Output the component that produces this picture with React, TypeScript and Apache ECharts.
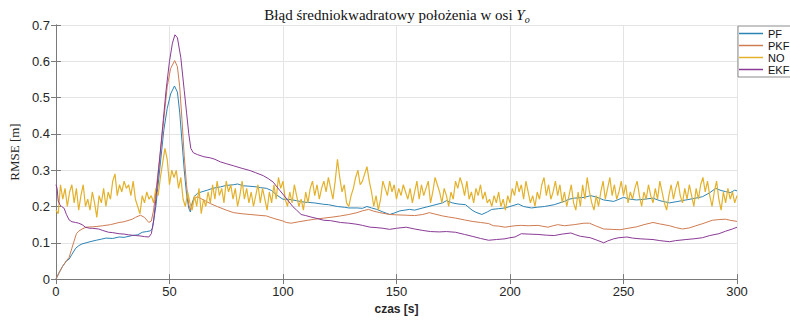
import React, { useEffect, useRef } from "react";
import * as echarts from "echarts";

const seriesNames = ["PF", "PKF", "NO", "EKF"];
const xTicks = [0, 50, 100, 150, 200, 250, 300];
const yTicks = [0, 0.1, 0.2, 0.3, 0.4, 0.5, 0.6, 0.7];

const pfT = [0, 1.4, 2.9, 4.6, 5.8, 7, 8.7, 10, 11.5, 13.3, 15, 17.7, 20, 22, 25, 27.8, 30, 33.6, 36, 38, 40, 41.6, 42.5, 44, 46, 47.5, 49, 50.5, 52.2, 53.5, 54.5, 55.5, 56.5, 57.5, 58.5, 59.2, 60, 61, 62.3, 64, 66.7, 69, 72.4, 75, 78.3, 80, 82.6, 85, 88.4, 90, 92.7, 95, 97.1, 100, 102, 104.3, 106, 109.4, 113.7, 118, 120, 123.9, 127, 129, 132.6, 135, 137, 139, 141.3, 144, 147, 149, 151.5, 155.8, 158, 161.6, 166, 170.3, 172, 174.6, 177, 180.4, 183.3, 185, 187.6, 190, 192, 195, 197.8, 200, 203.6, 206, 209.4, 212, 215.2, 219.5, 223.9, 226, 228.3, 232.6, 235.5, 238, 241.3, 245.7, 250, 253, 255.8, 259, 263, 266, 270.3, 274, 277.5, 281, 284.8, 288, 290.6, 293, 295, 297, 299, 300];
const pfV = [0, 0.018, 0.035, 0.05, 0.055, 0.068, 0.085, 0.092, 0.097, 0.1, 0.103, 0.107, 0.11, 0.113, 0.112, 0.116, 0.115, 0.12, 0.122, 0.129, 0.131, 0.133, 0.14, 0.2, 0.32, 0.41, 0.47, 0.51, 0.532, 0.515, 0.46, 0.38, 0.3, 0.235, 0.195, 0.185, 0.21, 0.228, 0.236, 0.24, 0.245, 0.25, 0.254, 0.258, 0.26, 0.262, 0.257, 0.256, 0.254, 0.252, 0.25, 0.244, 0.232, 0.22, 0.22, 0.218, 0.216, 0.212, 0.21, 0.206, 0.205, 0.2, 0.198, 0.196, 0.196, 0.195, 0.2, 0.196, 0.192, 0.185, 0.178, 0.182, 0.188, 0.192, 0.19, 0.196, 0.203, 0.21, 0.216, 0.21, 0.207, 0.205, 0.19, 0.184, 0.178, 0.185, 0.192, 0.194, 0.196, 0.2, 0.207, 0.2, 0.196, 0.198, 0.2, 0.205, 0.214, 0.22, 0.223, 0.225, 0.23, 0.226, 0.218, 0.214, 0.225, 0.22, 0.218, 0.22, 0.223, 0.216, 0.21, 0.214, 0.218, 0.222, 0.227, 0.238, 0.25, 0.244, 0.241, 0.238, 0.245, 0.243];

const pkfT = [0, 1.4, 2.9, 4.6, 5.8, 7, 8, 9, 10, 11.5, 13.3, 16, 18, 20.6, 24, 27.8, 30, 33.6, 35, 37.2, 39, 40.9, 42, 43, 44, 46, 47.5, 49, 50.5, 52.3, 53.5, 54.5, 55.5, 56.5, 57.5, 58.5, 59.2, 60, 61, 62.3, 65, 68, 71, 75, 78.3, 82, 85.5, 89, 92.7, 96, 100, 101.4, 103.6, 107, 110.9, 114, 118, 122, 125.3, 129, 132.6, 135, 137.7, 140, 142.7, 147, 150, 154.3, 158, 161.6, 164.5, 167, 170.3, 173, 176, 180, 183.3, 187, 190.6, 192.7, 195, 197.8, 200, 202.2, 205, 208, 212.3, 214, 216.7, 219, 221, 224, 228.3, 232.6, 235, 238, 241.3, 245, 248.5, 252, 255.8, 259, 263, 266, 270.3, 273, 276, 279, 281.9, 285, 289.1, 292, 295, 297, 300];
const pkfV = [0, 0.018, 0.035, 0.05, 0.06, 0.085, 0.105, 0.125, 0.132, 0.138, 0.143, 0.144, 0.145, 0.147, 0.15, 0.156, 0.158, 0.165, 0.17, 0.176, 0.17, 0.156, 0.16, 0.19, 0.24, 0.35, 0.44, 0.53, 0.58, 0.602, 0.585, 0.53, 0.44, 0.34, 0.26, 0.205, 0.19, 0.205, 0.222, 0.227, 0.218, 0.208, 0.2, 0.19, 0.183, 0.18, 0.178, 0.176, 0.174, 0.167, 0.16, 0.156, 0.154, 0.158, 0.162, 0.165, 0.168, 0.171, 0.174, 0.178, 0.183, 0.188, 0.192, 0.187, 0.183, 0.178, 0.177, 0.176, 0.175, 0.178, 0.183, 0.179, 0.174, 0.171, 0.168, 0.163, 0.159, 0.156, 0.153, 0.147, 0.146, 0.143, 0.145, 0.147, 0.148, 0.147, 0.148, 0.146, 0.143, 0.147, 0.15, 0.147, 0.15, 0.154, 0.154, 0.146, 0.138, 0.137, 0.136, 0.14, 0.144, 0.15, 0.156, 0.152, 0.147, 0.142, 0.138, 0.141, 0.147, 0.153, 0.162, 0.164, 0.165, 0.162, 0.159];

const ekfT = [0, 0.5, 1, 1.7, 2.5, 3.6, 4.6, 5.8, 7, 8.7, 10, 11.5, 13, 14.8, 16, 18.8, 20.6, 23.2, 25, 27.8, 30, 32, 35, 37, 39, 40.9, 42, 43, 44, 45.5, 47, 48.5, 50, 51.3, 52.4, 53.5, 55, 56.5, 57.5, 58.5, 59.4, 60.5, 62.3, 65.2, 68, 70, 72.4, 75, 78.3, 82, 85.5, 88, 91.3, 93.5, 95.7, 98.5, 101.4, 104.3, 106, 108, 110, 112.3, 115, 118, 121, 125.3, 129, 132.6, 135, 138.4, 141, 144, 147, 150, 154.3, 158, 161.6, 165, 168.8, 172, 176, 180, 183.3, 187, 190.6, 194, 197.8, 200, 202.2, 205, 208, 212.3, 216, 219.5, 223, 226.8, 229, 231, 235.3, 238, 241.3, 243, 245.7, 248, 251.5, 254, 257.3, 260, 263, 266, 270.3, 273, 277.5, 281, 284.8, 288, 292, 295, 298, 300];
const ekfV = [0.26, 0.25, 0.215, 0.205, 0.2, 0.195, 0.178, 0.163, 0.158, 0.156, 0.154, 0.15, 0.143, 0.14, 0.14, 0.138, 0.134, 0.129, 0.128, 0.125, 0.124, 0.122, 0.12, 0.119, 0.117, 0.116, 0.125, 0.16, 0.22, 0.32, 0.42, 0.52, 0.6, 0.65, 0.673, 0.665, 0.61, 0.52, 0.46, 0.4, 0.36, 0.348, 0.343, 0.337, 0.334, 0.33, 0.323, 0.318, 0.312, 0.305, 0.299, 0.293, 0.285, 0.277, 0.267, 0.245, 0.223, 0.2, 0.19, 0.178, 0.175, 0.171, 0.167, 0.162, 0.161, 0.156, 0.154, 0.151, 0.148, 0.143, 0.142, 0.14, 0.137, 0.14, 0.143, 0.138, 0.134, 0.131, 0.13, 0.131, 0.129, 0.123, 0.118, 0.112, 0.107, 0.109, 0.111, 0.114, 0.116, 0.125, 0.124, 0.123, 0.121, 0.12, 0.124, 0.127, 0.122, 0.118, 0.114, 0.108, 0.1, 0.105, 0.111, 0.114, 0.116, 0.113, 0.111, 0.11, 0.109, 0.106, 0.103, 0.106, 0.109, 0.111, 0.114, 0.12, 0.125, 0.132, 0.138, 0.143];

// NO sampled every 1 s from t = 0 to 300
const noV = [
  0.19, 0.18, 0.26, 0.22, 0.25, 0.2, 0.24, 0.26, 0.21, 0.25,
  0.19, 0.23, 0.26, 0.2, 0.22, 0.19, 0.24, 0.21, 0.17, 0.23,
  0.21, 0.25, 0.2, 0.24, 0.22, 0.27, 0.29, 0.23, 0.26, 0.24,
  0.27, 0.25, 0.26, 0.23, 0.27, 0.22, 0.2, 0.18, 0.23, 0.21,
  0.24, 0.22, 0.23, 0.21, 0.25, 0.23, 0.28, 0.32, 0.36, 0.33,
  0.26, 0.3, 0.28, 0.3, 0.25, 0.28, 0.22, 0.2, 0.24, 0.21,
  0.19, 0.23, 0.2, 0.25, 0.18, 0.22, 0.2, 0.24, 0.21, 0.26,
  0.22, 0.27, 0.23, 0.25, 0.21, 0.27, 0.24, 0.26, 0.22, 0.25,
  0.2, 0.23, 0.27, 0.22, 0.25, 0.21, 0.24, 0.2, 0.23, 0.26,
  0.21, 0.25, 0.22, 0.19, 0.24, 0.21, 0.26, 0.22, 0.28, 0.25,
  0.27, 0.22, 0.2, 0.24, 0.21, 0.26, 0.23, 0.2, 0.22, 0.19,
  0.24, 0.21, 0.25, 0.27, 0.23, 0.26, 0.22, 0.25, 0.27, 0.24,
  0.28, 0.25, 0.22, 0.27, 0.33, 0.28, 0.24, 0.26, 0.21, 0.2,
  0.23, 0.25, 0.28, 0.3, 0.26, 0.27, 0.29, 0.31, 0.27, 0.24,
  0.2, 0.23, 0.19, 0.22, 0.27, 0.25, 0.23, 0.27, 0.24, 0.26,
  0.22, 0.25, 0.23, 0.26, 0.24, 0.22, 0.25, 0.21, 0.24, 0.27,
  0.22, 0.26, 0.23, 0.25, 0.27, 0.21, 0.24, 0.28, 0.26, 0.24,
  0.21, 0.25, 0.23, 0.2, 0.24, 0.22, 0.27, 0.25, 0.28, 0.26,
  0.23, 0.27, 0.22, 0.24, 0.21, 0.25, 0.23, 0.26, 0.22, 0.24,
  0.21, 0.22, 0.2, 0.23, 0.21, 0.24, 0.2, 0.22, 0.19, 0.23,
  0.21, 0.25, 0.23, 0.27, 0.24, 0.26, 0.22, 0.27, 0.24, 0.21,
  0.23, 0.2, 0.24, 0.22, 0.26, 0.28, 0.23, 0.26, 0.22, 0.24,
  0.27, 0.23, 0.26, 0.21, 0.24, 0.2, 0.23, 0.26, 0.21, 0.19,
  0.24, 0.2, 0.26, 0.22, 0.28, 0.24, 0.21, 0.19, 0.23, 0.2,
  0.24, 0.27, 0.22, 0.25, 0.28, 0.23, 0.26, 0.22, 0.24, 0.27,
  0.23, 0.26, 0.21, 0.24, 0.22, 0.25, 0.27, 0.23, 0.2, 0.24,
  0.22, 0.26, 0.23, 0.21, 0.25, 0.22, 0.27, 0.24, 0.21, 0.19,
  0.23, 0.26, 0.22, 0.25, 0.27, 0.23, 0.21, 0.25, 0.22, 0.26,
  0.23, 0.2, 0.25, 0.22, 0.26, 0.28, 0.24, 0.27, 0.23, 0.2,
  0.24, 0.27, 0.22, 0.19, 0.24, 0.21, 0.25, 0.22, 0.24, 0.21,
  0.23,
];

const colors = ["#2c83b4", "#cf7c52", "#e3b12c", "#8a3b95"];

const zip = (t: number[], v: number[]) => t.map((x, i) => [x, v[i]]);

export default function App() {
  const ref = useRef<HTMLDivElement>(null);
  useEffect(() => {
    if (!ref.current) return;
    const chart = echarts.init(ref.current, null, { renderer: "svg" });
    const axisColor = "#7a7a7a";
    const labelColor = "#262626";
    const sans = "Liberation Sans, Arial, sans-serif";
    const serif = "Liberation Serif, Times New Roman, serif";
    const noData = noV.map((v, i) => [i, v]);
    const all = [zip(pfT, pfV), zip(pkfT, pkfV), noData, zip(ekfT, ekfV)];
    chart.setOption({
      animation: false,
      backgroundColor: "#ffffff",
      title: {
        left: 392,
        textAlign: "center",
        top: 1,
        text: "{a|Błąd średniokwadratowy położenia w osi }{y|Y}{s|o}",
        textStyle: {
          fontWeight: "normal",
          rich: {
            a: { fontFamily: serif, fontSize: 15, fontWeight: "normal", color: "#111", lineHeight: 18 },
            y: { fontFamily: serif, fontSize: 15, fontWeight: "normal", fontStyle: "italic", color: "#111", lineHeight: 18 },
            s: { fontFamily: serif, fontSize: 10, fontWeight: "normal", fontStyle: "italic", color: "#111", verticalAlign: "bottom", lineHeight: 12, padding: [5, 0, 0, 0] },
          },
        },
      },
      legend: {
        orient: "vertical",
        left: 738,
        top: 26,
        padding: [2, 3, 2, 1],
        itemGap: 1,
        itemWidth: 24,
        itemHeight: 1.5,
        icon: "rect",
        backgroundColor: "#ffffff",
        borderColor: "#8c8c8c",
        borderWidth: 1,
        borderRadius: 0,
        data: seriesNames.map((name, i) => ({ name, itemStyle: { color: colors[i] } })),
        textStyle: { fontFamily: sans, fontSize: 11, color: "#111", lineHeight: 11 },
      },
      grid: { left: 47, right: 53, top: 25, bottom: 33, containLabel: false },
      xAxis: [
        {
          type: "value",
          min: xTicks[0],
          max: xTicks[xTicks.length - 1],
          interval: xTicks[1] - xTicks[0],
          position: "bottom",
          name: "czas [s]",
          nameLocation: "middle",
          nameGap: 18,
          nameTextStyle: { fontFamily: sans, fontSize: 12, fontWeight: "bold", color: labelColor },
          axisLine: { show: true, lineStyle: { color: axisColor, width: 1 } },
          axisTick: { show: true, inside: true, length: 5, lineStyle: { color: axisColor } },
          axisLabel: { color: labelColor, fontFamily: sans, fontSize: 13, margin: 6 },
          splitLine: { show: true, lineStyle: { color: "#e4e4e4", width: 1 } },
        },
        {
          type: "value",
          min: xTicks[0],
          max: xTicks[xTicks.length - 1],
          interval: xTicks[1] - xTicks[0],
          position: "top",
          axisLine: { show: true, lineStyle: { color: axisColor, width: 1 } },
          axisTick: { show: true, inside: true, length: 5, lineStyle: { color: axisColor } },
          axisLabel: { show: false },
          splitLine: { show: false },
        },
      ],
      yAxis: [
        {
          type: "value",
          min: yTicks[0],
          max: yTicks[yTicks.length - 1],
          interval: 0.1,
          position: "left",
          name: "RMSE [m]",
          nameLocation: "middle",
          nameGap: 29,
          nameTextStyle: { fontFamily: serif, fontSize: 13, color: labelColor },
          axisLine: { show: true, lineStyle: { color: axisColor, width: 1 } },
          axisTick: { show: true, inside: true, length: 5, lineStyle: { color: axisColor } },
          axisLabel: { color: labelColor, fontFamily: sans, fontSize: 13, margin: 6, formatter: (v: number) => String(Math.round(v * 10) / 10) },
          splitLine: { show: true, lineStyle: { color: "#e4e4e4", width: 1 } },
        },
        {
          type: "value",
          min: yTicks[0],
          max: yTicks[yTicks.length - 1],
          interval: 0.1,
          position: "right",
          axisLine: { show: true, lineStyle: { color: axisColor, width: 1 } },
          axisTick: { show: true, inside: true, length: 5, lineStyle: { color: axisColor } },
          axisLabel: { show: false },
          splitLine: { show: false },
        },
      ],
      series: seriesNames.map((name, i) => ({
        name,
        type: "line",
        xAxisIndex: 0,
        yAxisIndex: 0,
        data: all[i],
        symbol: "none",
        showSymbol: false,
        smooth: false,
        lineStyle: { color: colors[i], width: i === 2 ? 1.2 : 1 },
        itemStyle: { color: colors[i] },
        z: 2 + i,
      })),
    });
    return () => chart.dispose();
  }, []);
  return <div ref={ref} style={{ position: "absolute", left: 0, top: 0, width: 790, height: 320 }} />;
}
